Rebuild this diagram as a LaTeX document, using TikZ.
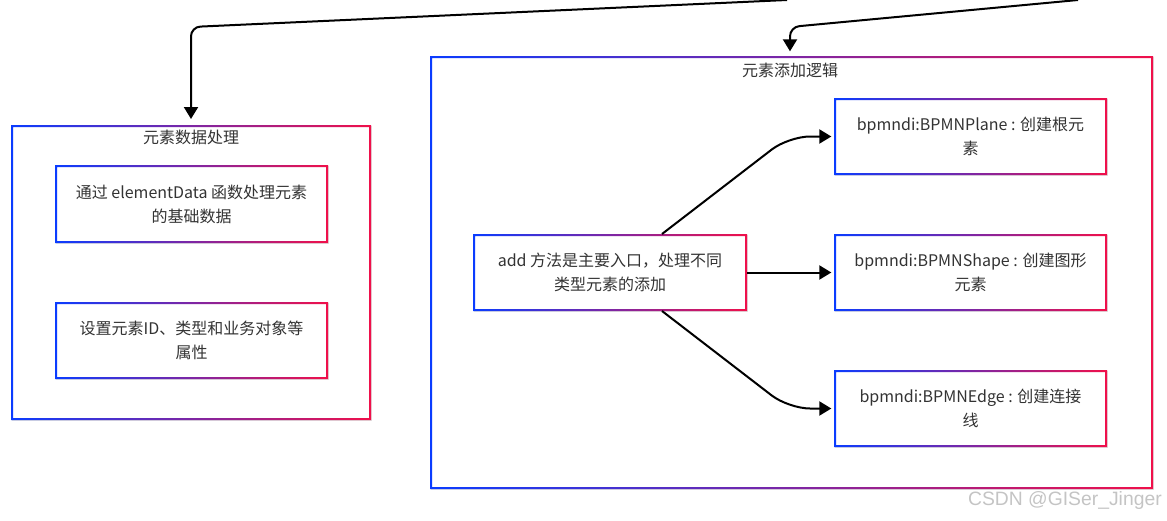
\documentclass[tikz,border=0pt]{standalone}
\usepackage{fontspec}
\setmainfont{Noto Sans CJK SC}
\newfontfamily\wmfont{Liberation Sans}
\usetikzlibrary{arrows.meta,shadows}
\definecolor{gblue}{HTML}{0A3CFF}
\definecolor{gred}{HTML}{F0104A}
\definecolor{txt}{HTML}{333333}
\definecolor{wmgray}{HTML}{C4C4C4}
% gradient border (blue -> red) around a named rectangular node
\newcommand\gradframe[1]{%
  \shade[left color=gblue, right color=gred, even odd rule]
    (#1.south west) rectangle (#1.north east)
    ([shift={(1.5pt,1.5pt)}]#1.south west) rectangle ([shift={(-1.5pt,-1.5pt)}]#1.north east);}
\begin{document}
\begin{tikzpicture}[x=0.75pt,y=-0.75pt,
  box/.style={fill=white, draw=none, inner sep=0pt, outer sep=0pt, text=txt,
    font=\fontsize{12pt}{18pt}\selectfont, align=center,
    drop shadow={shadow xshift=0.8pt, shadow yshift=-1pt, opacity=0.12, fill=black}},
  heading/.style={text=txt, font=\fontsize{12pt}{14pt}\selectfont, anchor=north, inner sep=0pt},
  link/.style={line width=1.5pt, draw=black, -{Triangle[length=9pt,width=10.5pt]}}]
\useasboundingbox (0,0) rectangle (1167,521);

% containers
\node[box, minimum width=360*0.75pt, minimum height=295*0.75pt] (outerL) at (191,272.5) {};
\gradframe{outerL}
\node[box, minimum width=723*0.75pt, minimum height=433*0.75pt] (outerR) at (791.5,272.5) {};
\gradframe{outerR}
\node[heading] (tL) at (191,129.5) {元素数据处理};
\node[heading] (tR) at (790,62.5) {元素添加逻辑};

% left column
\node[box, minimum width=273*0.75pt, minimum height=78*0.75pt] (l1) at (191.5,204)
  {通过 elementData 函数处理元素\\的基础数据};
\gradframe{l1}
\node[box, minimum width=273*0.75pt, minimum height=77*0.75pt] (l2) at (191.5,340.5)
  {设置元素ID、类型和业务对象等\\属性};
\gradframe{l2}

% right column
\node[box, minimum width=274*0.75pt, minimum height=77*0.75pt] (c) at (610,272.5)
  {add 方法是主要入口，处理不同\\类型元素的添加};
\gradframe{c}
\node[box, minimum width=273*0.75pt, minimum height=77*0.75pt] (r1) at (970.5,136.5)
  {bpmndi:BPMNPlane : 创建根元\\素};
\gradframe{r1}
\node[box, minimum width=273*0.75pt, minimum height=77*0.75pt] (r2) at (970.5,272.5)
  {bpmndi:BPMNShape : 创建图形\\元素};
\gradframe{r2}
\node[box, minimum width=273*0.75pt, minimum height=77*0.75pt] (r3) at (970.5,408.5)
  {bpmndi:BPMNEdge : 创建连接\\线};
\gradframe{r3}

% incoming connectors from above
\coordinate (s1) at (787,0);
\coordinate (s2) at (1078,0);
\draw[link, rounded corners=7pt] (s1) -- (outerL.north |- 0,27) -- ([yshift=4.5pt]outerL.north);
\draw[link, rounded corners=7pt] (s2) -- (tR.north |- 0,27) -- ([yshift=3.5pt]tR.north |- outerR.north);

% fan-out from the add method
\draw[link, rounded corners=16pt] ([xshift=39pt]c.north) -- ([xshift=-34pt]r1.west) -- ([xshift=-2pt]r1.west);
\draw[link] (c.east) -- ([xshift=-2pt]r2.west);
\draw[link, rounded corners=16pt] ([xshift=39pt]c.south) -- ([xshift=-34pt]r3.west) -- ([xshift=-2pt]r3.west);

% watermark
\node[anchor=east, inner sep=0pt, text=wmgray, font=\wmfont\fontsize{14.5pt}{16pt}\selectfont] (wm) at (1162,500) {CSDN @GISer\_Jinger};
\end{tikzpicture}
\end{document}
